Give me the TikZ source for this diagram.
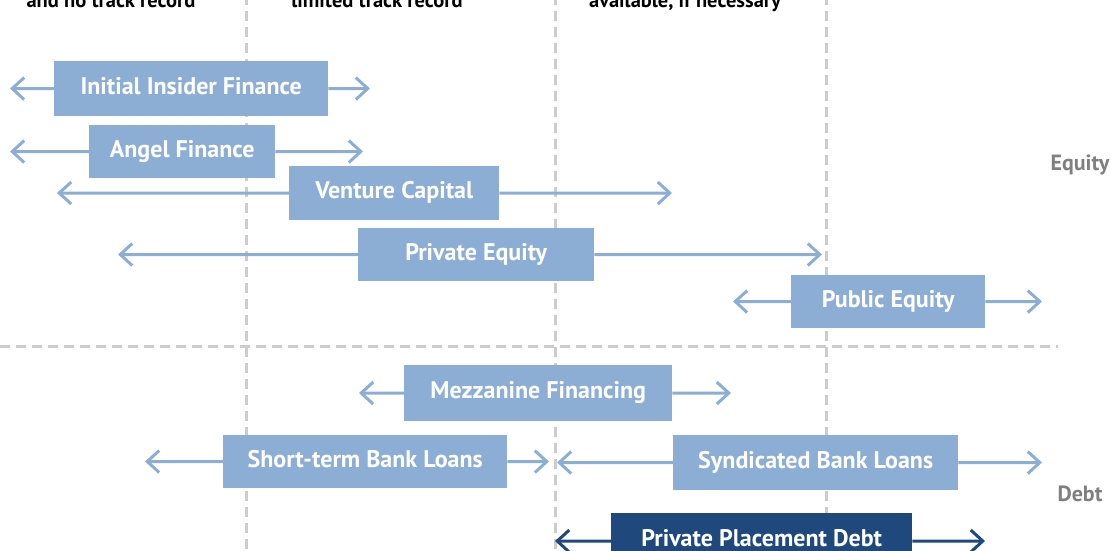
\documentclass[tikz,border=0pt]{standalone}
\usepackage{fontspec}
\setmainfont{PT Sans}
\usetikzlibrary{arrows.meta}
\definecolor{lblue}{HTML}{8DAED4}
\definecolor{dblue}{HTML}{1F497D}
\definecolor{lgray}{HTML}{CCCCCC}
\definecolor{tgray}{HTML}{7F7F7F}
\tikzset{
  fin/.style={fill=lblue, text=white, font=\bfseries\fontsize{24}{26}\selectfont, inner sep=0pt, anchor=north west, text height=17pt, text depth=6pt},
  darkfin/.style={fin, fill=dblue},
  arr/.style={-{Straight Barb[length=12pt,width=22pt,line width=3pt]}, line width=3pt, lblue},
  darr/.style={arr, dblue},
  sep/.style={lgray, line width=3pt, dash pattern=on 10pt off 6pt},
  hdr/.style={font=\bfseries\fontsize{20.5}{22}\selectfont, anchor=base},
  side/.style={font=\bfseries\fontsize{22}{24}\selectfont, text=tgray, anchor=west},
}
\begin{document}
\begin{tikzpicture}[x=1pt,y=-1pt]
\useasboundingbox (0,0) rectangle (1110,550);
\clip (0,0) rectangle (1110,550);
% headers
\node[hdr] (h1) at (111,7) {and no track record};
\node[hdr] (h2) at (377,7) {limited track record};
\node[hdr] (h3) at (685,7) {available, if necessary};
% separators
\draw[sep] (246,-5) -- (246,555);
\draw[sep] (555,-5) -- (555,555);
\draw[sep] (826,-5) -- (826,555);
\draw[sep] (0,346) -- (1058,346);
% side labels
\node[side] (eq) at (1047,165) {Equity};
\node[side] (db) at (1054,494) {Debt};
% boxes
\node[fin, minimum width=274pt, minimum height=55pt] (iif) at (54,61) {Initial Insider Finance};
\node[fin, minimum width=186pt, minimum height=53pt] (ang) at (89,125) {Angel Finance};
\node[fin, minimum width=210pt, minimum height=54pt] (vc) at (289,166) {Venture Capital};
\node[fin, minimum width=236pt, minimum height=53pt] (pe) at (358,228) {Private Equity};
\node[fin, minimum width=194pt, minimum height=53pt] (pub) at (791,275) {Public Equity};
\node[fin, minimum width=268pt, minimum height=56pt] (mez) at (404,365) {Mezzanine Financing};
\node[fin, minimum width=284pt, minimum height=53pt] (stb) at (223,435) {Short-term Bank Loans};
\node[fin, minimum width=285pt, minimum height=55pt] (syn) at (673,435) {Syndicated Bank Loans};
\node[darkfin, minimum width=301pt, minimum height=56pt] (ppd) at (611,513) {Private Placement Debt};
% arrow end points
\coordinate (iifL) at (10,88.5);  \coordinate (iifR) at (370,88.5);
\coordinate (angL) at (10,151.5); \coordinate (angR) at (363,151.5);
\coordinate (vcL) at (57,193);    \coordinate (vcR) at (672,193);
\coordinate (peL) at (118,254.5); \coordinate (peR) at (822,254.5);
\coordinate (pubL) at (733,301.5);\coordinate (pubR) at (1042,301.5);
\coordinate (mezL) at (359,393);  \coordinate (mezR) at (731,393);
\coordinate (stbL) at (145,461.5);\coordinate (stbR) at (549,461.5);
\coordinate (synL) at (557,462.5);\coordinate (synR) at (1042,462.5);
\coordinate (ppdL) at (555,541);  \coordinate (ppdR) at (985,541);
% arrows
\foreach \n in {iif,ang,vc,pe,pub,mez,stb,syn}{
  \draw[arr] (\n.west) -- (\n L);
  \draw[arr] (\n.east) -- (\n R);
}
\draw[darr] (ppd.west) -- (ppdL);
\draw[darr] (ppd.east) -- (ppdR);
\end{tikzpicture}
\end{document}
